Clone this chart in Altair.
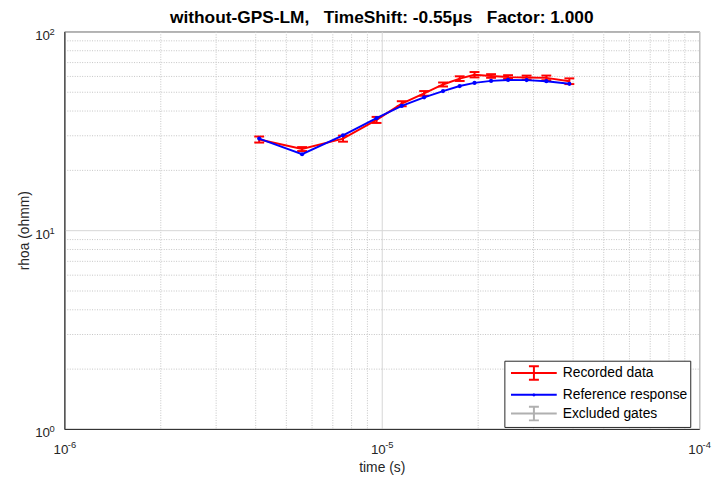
import altair as alt
import pandas as pd

NB = "\u00a0"
title_text = ("without-GPS-LM," + NB * 3 + "TimeShift:" + NB + "-0.55\u03bcs" + NB * 3
              + "Factor:" + NB + "1.000")

# gate times (s)
times = [4.11e-6, 5.61e-6, 7.55e-6, 9.63e-6, 1.156e-5, 1.36e-5, 1.56e-5,
         1.76e-5, 1.96e-5, 2.21e-5, 2.50e-5, 2.86e-5, 3.30e-5, 3.90e-5]
# recorded apparent resistivity (ohmm)
recorded = [28.6, 25.6, 28.9, 35.9, 43.3, 48.8, 54.1, 57.9, 60.6, 59.7,
            59.0, 58.6, 58.4, 56.2]
# relative error of recorded data
rel_err = [0.035, 0.023, 0.035, 0.035, 0.029, 0.027, 0.023, 0.027, 0.031,
           0.021, 0.021, 0.023, 0.027, 0.033]
# reference response (ohmm)
reference = [28.9, 24.1, 30.0, 36.6, 42.2, 46.6, 50.1, 53.1, 55.1, 56.4,
             57.0, 56.9, 56.2, 54.5]

series_names = ["Recorded data", "Reference response", "Excluded gates"]
series_colors = ["#ff0000", "#0000ff", "#b0b0b0"]

x_ticks = [m * 10.0 ** e for e in (-6, -5) for m in range(1, 10)] + [1e-4]
y_ticks = [m * 10.0 ** e for e in (0, 1) for m in range(1, 10)] + [100.0]
# decade tick labels: base and exponent
x_decades = [1e-6, 1e-5, 1e-4]
x_exponents = ["-6", "-5", "-4"]
y_decades = [1.0, 10.0, 100.0]
y_exponents = ["0", "1", "2"]

FONT = "Liberation Sans"
AXIS_COLOR = "#262626"
LOG = "log(datum.value)/LN10"
MAJOR = f"abs({LOG} - round({LOG})) < 0.001"
BASE_LABEL = f"{MAJOR} ? '10' : ''"

grid_dash = {"condition": {"test": MAJOR, "value": []}, "value": [1, 1.5]}
grid_color = {"condition": {"test": MAJOR, "value": "#d6d6d6"}, "value": "#c4c4c4"}

x_axis = alt.Axis(values=x_ticks, labelExpr=BASE_LABEL, ticks=False,
                  labelPadding=14, titlePadding=5, gridDash=grid_dash,
                  gridColor=grid_color, labelFlush=False, labelOverlap=False,
                  labelAlign="right", labelOffset=3.5)
y_axis = alt.Axis(values=y_ticks, labelExpr=BASE_LABEL, ticks=False,
                  labelPadding=15, titlePadding=3, gridDash=grid_dash,
                  gridColor=grid_color, labelFlush=False, labelOverlap=False,
                  labelBaseline="alphabetic", labelOffset=8)

x_scale = alt.Scale(type="log", domain=[1e-6, 1e-4], nice=False)
y_scale = alt.Scale(type="log", domain=[1, 100], nice=False)
x_enc = alt.X("t:Q", scale=x_scale, axis=x_axis, title="time (s)")
y_enc = alt.Y("rho:Q", scale=y_scale, axis=y_axis, title="rhoa (ohmm)")

df_rec = pd.DataFrame({
    "t": times,
    "rho": recorded,
    "lo": [r * (1 - e) for r, e in zip(recorded, rel_err)],
    "hi": [r * (1 + e) for r, e in zip(recorded, rel_err)],
})
df_ref = pd.DataFrame({"t": times, "rho": reference,
                       "series": ["Reference response"] * len(times)})
df_xexp = pd.DataFrame({"t": x_decades, "rho": [1.0] * 3, "lab": x_exponents})
df_yexp = pd.DataFrame({"t": [1e-6] * 3, "rho": y_decades, "lab": y_exponents})

red_line = alt.Chart(df_rec).mark_line(color="#ff0000", strokeWidth=2).encode(x=x_enc, y=y_enc)
red_bars = alt.Chart(df_rec).mark_rule(color="#ff0000", strokeWidth=2).encode(
    x=x_enc, y=alt.Y("lo:Q"), y2="hi:Q")
red_cap_lo = alt.Chart(df_rec).mark_tick(color="#ff0000", orient="horizontal",
                                         size=10, thickness=2, opacity=1).encode(
    x=x_enc, y=alt.Y("lo:Q"))
red_cap_hi = alt.Chart(df_rec).mark_tick(color="#ff0000", orient="horizontal",
                                         size=10, thickness=2, opacity=1).encode(
    x=x_enc, y=alt.Y("hi:Q"))
blue_line = alt.Chart(df_ref).mark_line(
    color="#0000ff", strokeWidth=2,
    point=alt.OverlayMarkDef(color="#0000ff", filled=True, size=18, opacity=1),
).encode(x=x_enc, y=y_enc)

x_exp_text = alt.Chart(df_xexp).mark_text(
    align="left", baseline="alphabetic", dx=3.5, dy=19, fontSize=9.5,
    font=FONT, color=AXIS_COLOR).encode(x=x_enc, y=y_enc, text="lab:N")
y_exp_text = alt.Chart(df_yexp).mark_text(
    align="left", baseline="alphabetic", dx=-15, dy=3.6, fontSize=9.5,
    font=FONT, color=AXIS_COLOR).encode(x=x_enc, y=y_enc, text="lab:N")

# legend symbols: a line with an error bar / a dot
line_path = "M-0.61,0H4.26"
eb_path = "M1.83,-0.72V0.72M1.3,-0.72H2.36M1.3,0.72H2.36"
dot_path = "M1.76,0A0.07,0.07,0,1,0,1.9,0A0.07,0.07,0,1,0,1.76,0"
legend_shapes = [line_path + eb_path, line_path + dot_path, line_path + eb_path]

legend = alt.Legend(title=None, orient="none", legendX=445, legendY=333,
                    symbolSize=361, labelOffset=36, labelFontSize=14,
                    labelFont=FONT, labelColor="#000000", padding=2,
                    rowPadding=0, fillColor="white", strokeColor=AXIS_COLOR,
                    symbolStrokeWidth=2, symbolOpacity=1, symbolFillColor="transparent")

legend_layer = alt.Chart(df_ref).mark_point(opacity=0, filled=False).encode(
    x=x_enc, y=y_enc,
    color=alt.Color("series:N", scale=alt.Scale(domain=series_names, range=series_colors),
                    legend=legend),
    shape=alt.Shape("series:N", scale=alt.Scale(domain=series_names, range=legend_shapes),
                    legend=legend),
)

chart = alt.layer(red_line, red_bars, red_cap_lo, red_cap_hi, blue_line,
                  x_exp_text, y_exp_text, legend_layer).properties(
    width=642, height=402,
    autosize=alt.AutoSizeParams(type="none"),
    padding={"left": 57, "top": 21, "right": 14, "bottom": 55},
    title=alt.TitleParams(text=title_text, fontSize=17.5, fontWeight="bold", font=FONT,
                          color="#000000", anchor="middle", offset=6, dy=5),
).configure_view(stroke=AXIS_COLOR, strokeWidth=1).configure_axis(
    domainColor=AXIS_COLOR, labelColor=AXIS_COLOR, titleColor=AXIS_COLOR,
    labelFont=FONT, titleFont=FONT, labelFontSize=13.5, titleFontSize=14,
    titleFontWeight="normal", gridWidth=1,
)

chart.save("out.html", embed_options={"renderer": "svg", "actions": False})
